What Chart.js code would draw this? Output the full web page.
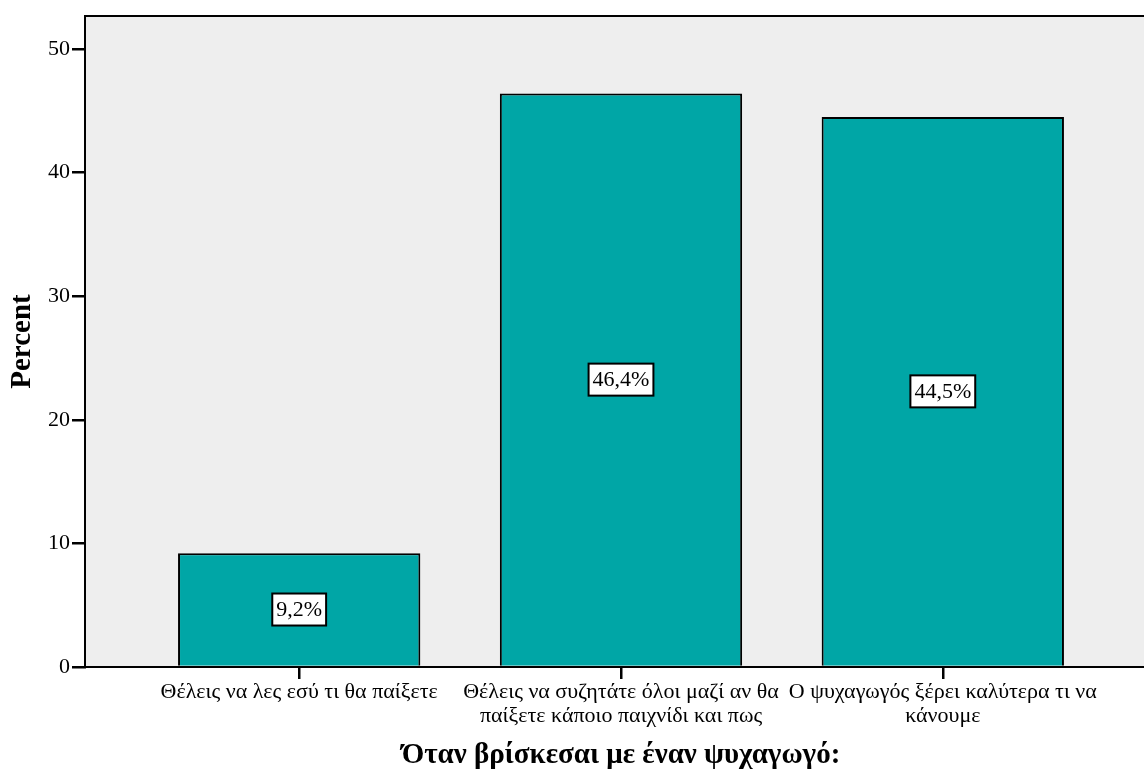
<!DOCTYPE html>
<html>
<head>
<meta charset="utf-8">
<script src="https://cdn.jsdelivr.net/npm/chart.js@4.4.1/dist/chart.umd.min.js"></script>
<style>
html,body{margin:0;padding:0;overflow:hidden;background:#fff;width:1144px;height:771px;}
#wrap{width:1158px;height:771px;}
</style>
</head>
<body>
<div id="wrap"><canvas id="c" width="1158" height="771"></canvas></div>
<script>
const categories = [
  ["Θέλεις να λες εσύ τι θα παίξετε"],
  ["Θέλεις να συζητάτε όλοι μαζί αν θα", "παίξετε κάποιο παιχνίδι και πως"],
  ["Ο ψυχαγωγός ξέρει καλύτερα τι να", "κάνουμε"]
];
const percentValues = [9.2, 46.4, 44.5];
const yTicks = [0, 10, 20, 30, 40, 50];
const xTitle = "Όταν βρίσκεσαι με έναν ψυχαγωγό:";
const yTitle = "Percent";

const FONT = "'Liberation Serif', 'Times New Roman', serif";

const bgPlugin = {
  id: 'bg',
  beforeDraw(chart) {
    const {ctx, chartArea: a} = chart;
    ctx.save();
    ctx.fillStyle = '#EEEEEE';
    ctx.fillRect(a.left, a.top, a.right - a.left, a.bottom - a.top);
    ctx.strokeStyle = '#000';
    ctx.lineWidth = 2;
    ctx.beginPath();
    ctx.moveTo(a.left, a.top);
    ctx.lineTo(a.right, a.top);
    ctx.lineTo(a.right, a.bottom);
    ctx.stroke();
    ctx.restore();
  }
};

const labelPlugin = {
  id: 'boxLabels',
  afterDatasetsDraw(chart) {
    const {ctx} = chart;
    const meta = chart.getDatasetMeta(0);
    ctx.save();
    ctx.font = "22px " + FONT;
    ctx.textAlign = 'center';
    ctx.textBaseline = 'middle';
    meta.data.forEach((bar, i) => {
      const txt = percentValues[i].toFixed(1).replace('.', ',') + '%';
      const cx = bar.x;
      const cy = (bar.y + bar.base) / 2;
      const w = ctx.measureText(txt).width + 8;
      const h = 32;
      ctx.fillStyle = '#fff';
      ctx.fillRect(cx - w / 2, cy - h / 2, w, h);
      ctx.strokeStyle = '#000';
      ctx.lineWidth = 2;
      ctx.strokeRect(cx - w / 2, cy - h / 2, w, h);
      ctx.fillStyle = '#000';
      ctx.fillText(txt, cx, cy + 1);
    });
    ctx.restore();
  }
};

new Chart(document.getElementById('c'), {
  type: 'bar',
  data: {
    datasets: [{
      data: percentValues.map((v, i) => ({x: i, y: v})),
      backgroundColor: '#00A6A6',
      borderColor: '#000',
      borderWidth: 2,
      borderSkipped: 'bottom',
      barPercentage: 0.753,
      categoryPercentage: 1
    }]
  },
  options: {
    responsive: false,
    animation: false,
    layout: {padding: {top: 16, right: 1, left: 0, bottom: 0}},
    plugins: {legend: {display: false}, tooltip: {enabled: false}},
    scales: {
      x: {
        type: 'linear',
        offset: false,
        min: -0.6656,
        max: 2.6656,
        afterBuildTicks(scale) { scale.ticks = categories.map((c, i) => ({value: i})); },
        afterFit(scale) { scale.height = 104; },
        border: {display: true, color: '#000', width: 2},
        grid: {offset: false, drawOnChartArea: false, drawTicks: true, tickLength: 12, color: '#000', lineWidth: 2.5},
        ticks: {
          autoSkip: false, maxRotation: 0, minRotation: 0, padding: 1,
          color: '#000', font: {family: FONT, size: 22, lineHeight: 1.1},
          callback: (v) => categories[v] || ''
        },
        title: {
          display: true, text: xTitle, color: '#000',
          font: {family: FONT, size: 29, weight: 'bold', lineHeight: 1.0},
          padding: {top: 0, bottom: 1}
        }
      },
      y: {
        min: 0,
        max: 52.67,
        afterBuildTicks(scale) { scale.ticks = yTicks.map(v => ({value: v})); },
        afterFit(scale) { scale.width = 85; },
        border: {display: true, color: '#000', width: 2},
        grid: {drawOnChartArea: false, drawTicks: true, tickLength: 13, color: '#000', lineWidth: 2.5},
        ticks: {color: '#000', padding: 2, font: {family: FONT, size: 22}},
        title: {
          display: true, text: yTitle, color: '#000',
          font: {family: FONT, size: 29, weight: 'bold', lineHeight: 1.2},
          padding: {top: 5, bottom: 0}
        }
      }
    }
  },
  plugins: [bgPlugin, labelPlugin]
});
</script>
</body>
</html>
